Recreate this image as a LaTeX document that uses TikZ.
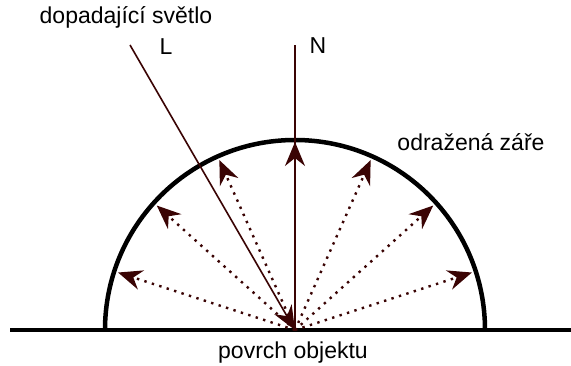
\documentclass[tikz,border=0pt]{standalone}
\usepackage{fontspec}
\setmainfont{Liberation Sans}
\usetikzlibrary{arrows.meta}
\definecolor{raycol}{RGB}{58,4,4}
\tikzset{
  lbl/.style={font=\fontsize{23}{27}\selectfont, inner sep=0pt},
  tip/.style={-{Stealth[length=24pt,width=20pt,inset=8pt]}},
  beam/.style={raycol, line width=1.6pt},
  refl/.style={raycol, line width=2.4pt, dash pattern=on 2.4pt off 5.4pt, tip},
  body/.style={black, line width=4.5pt}
}
\begin{document}
\begin{tikzpicture}[x=1pt, y=1pt]
  \useasboundingbox (0,0) rectangle (571,365);
  % point of incidence
  \coordinate (O) at (295,35);
  % surface and hemisphere
  \coordinate (sL) at (10,35);
  \coordinate (sR) at (571,35);
  \draw[body] (sL) -- (sR);
  \draw[body] (105,35) arc[start angle=180, end angle=0, radius=190];
  % reflected rays
  \foreach \a in {18,42,66,114,138,162}
    \draw[refl] (O) -- ++(\a:186);
  % normal
  \coordinate (Ntop) at (295,320);
  \draw[beam] (O) -- (Ntop);
  \draw[beam, tip] (O) -- ++(90:188);
  % incident light
  \coordinate (Ltop) at (130,320);
  \draw[beam, tip] (Ltop) -- (O);
  % labels
  \node[lbl] (inc) at (126,348) {dopadající světlo};
  \node[lbl] (lL) at (166,318) {L};
  \node[lbl] (lN) at (318,319) {N};
  \node[lbl] (out) at (471,223) {odražená záře};
  \node[lbl] (surf) at (293,12) {povrch objektu};
\end{tikzpicture}
\end{document}
